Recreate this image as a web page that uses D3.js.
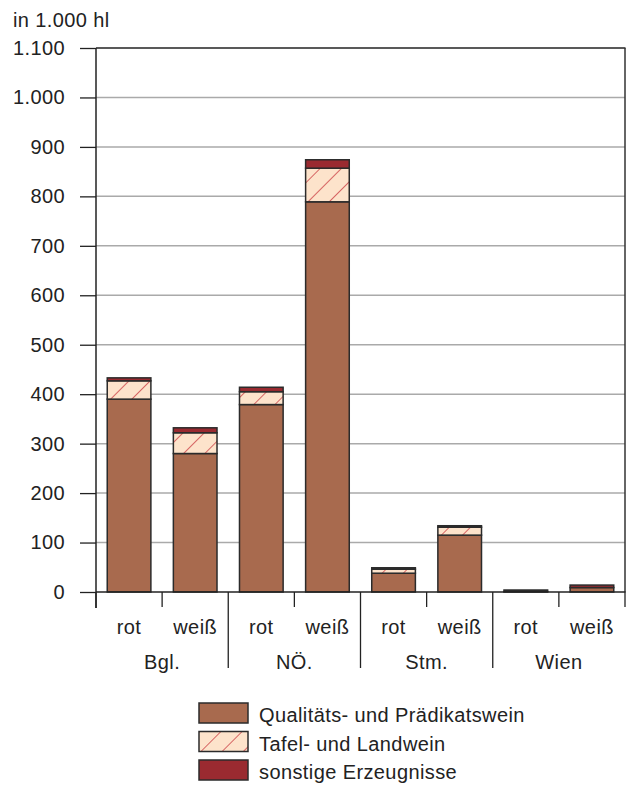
<!DOCTYPE html>
<html><head><meta charset="utf-8">
<script src="https://cdn.jsdelivr.net/npm/d3@7"></script>
<style>body{margin:0;background:#fff}svg{display:block}text{font-family:"Liberation Sans",Arial,sans-serif;fill:#222;letter-spacing:0.4px}</style>
</head><body><div id="chart"></div>
<script>
const regions = ["Bgl.", "NÖ.", "Stm.", "Wien"];
const kinds = ["rot", "weiß"];
const categories = ["Bgl. rot","Bgl. weiß","NÖ. rot","NÖ. weiß","Stm. rot","Stm. weiß","Wien rot","Wien weiß"];
const qualitaet = [390, 280, 379, 789, 38, 115, 1, 9];
const tafel     = [37, 42, 26, 68, 8, 16, 0, 0];
const sonstige  = [6, 10, 9, 17, 3, 3, 3, 5];
const seriesNames = ["Qualitäts- und Prädikatswein", "Tafel- und Landwein", "sonstige Erzeugnisse"];
const yTicks = [0,100,200,300,400,500,600,700,800,900,1000,1100];
const yTickLabels = ["0","100","200","300","400","500","600","700","800","900","1.000","1.100"];

const W = 630, H = 785, FS = 20;
const svg = d3.select("#chart").append("svg").attr("width", W).attr("height", H);
const defs = svg.append("defs");
const pat = defs.append("pattern").attr("id","hatch").attr("patternUnits","userSpaceOnUse")
  .attr("width",15).attr("height",15).attr("patternTransform","rotate(45)");
pat.append("rect").attr("width",15).attr("height",15).attr("fill","#fde3cb");
pat.append("line").attr("x1",0).attr("y1",0).attr("x2",0).attr("y2",15).attr("stroke","#c62f36").attr("stroke-width",1.4);

const x0 = 96, x1 = 625, yTop = 48, yBot = 592;
const x = d3.scaleBand().domain(categories).range([x0, x1]).paddingInner(0.34).paddingOuter(0.17);
const xSlot = d3.scaleBand().domain(categories).range([x0, x1]);
const xReg = d3.scaleBand().domain(regions).range([x0, x1]);
const y = d3.scaleLinear().domain([0, 1100]).range([yBot, yTop]);

// gridlines
svg.append("g").selectAll("line").data(yTicks.slice(1, -1)).join("line")
  .attr("x1", x0).attr("x2", x1).attr("y1", d => y(d)).attr("y2", d => y(d))
  .attr("stroke", "#aaa").attr("stroke-width", 1.5);

// frame top/right
svg.append("line").attr("x1", x0).attr("x2", x1 + 0.5).attr("y1", y(1100)).attr("y2", y(1100)).attr("stroke", "#222").attr("stroke-width", 1.5);
svg.append("line").attr("x1", x1).attr("x2", x1).attr("y1", y(1100)).attr("y2", yBot).attr("stroke", "#333").attr("stroke-width", 1.5);

// y axis
const yAxis = d3.axisLeft(y).tickValues(yTicks).tickFormat((d, i) => yTickLabels[i]).tickSize(16).tickPadding(15);
const gy = svg.append("g").attr("transform", `translate(${x0},0)`).call(yAxis);
gy.select(".domain").remove();
gy.selectAll(".tick line").attr("stroke", "#222").attr("stroke-width", 1.3);
gy.selectAll(".tick text").attr("font-size", FS).style("font-family", '"Liberation Sans",Arial,sans-serif').attr("fill", "#222");
svg.append("line").attr("x1", x0).attr("x2", x0).attr("y1", y(1100)).attr("y2", 608).attr("stroke", "#222").attr("stroke-width", 1.5);

// bars
const stack = categories.map((c, i) => ({c, q: qualitaet[i], t: tafel[i], s: sonstige[i]}));
const segs = [];
stack.forEach(d => {
  segs.push({c: d.c, y0: 0, y1: d.q, fill: "#a86a4e"});
  segs.push({c: d.c, y0: d.q, y1: d.q + d.t, fill: "url(#hatch)"});
  segs.push({c: d.c, y0: d.q + d.t, y1: d.q + d.t + d.s, fill: "#9a2a30"});
});
svg.append("g").selectAll("rect").data(segs.filter(s => s.y1 > s.y0)).join("rect")
  .attr("x", d => x(d.c)).attr("width", x.bandwidth())
  .attr("y", d => y(d.y1)).attr("height", d => y(d.y0) - y(d.y1))
  .attr("fill", d => d.fill).attr("stroke", "#2b2b2b").attr("stroke-width", 1.5);

// x axis line
svg.append("line").attr("x1", x0).attr("x2", x1 + 0.5).attr("y1", yBot).attr("y2", yBot).attr("stroke", "#222").attr("stroke-width", 1.5);
// ticks
categories.forEach((c, i) => {
  if (i === 0) return;
  const xx = xSlot(c);
  const long = i % 2 === 0;
  svg.append("line").attr("x1", xx).attr("x2", xx).attr("y1", yBot).attr("y2", long ? 668 : 607)
    .attr("stroke", "#222").attr("stroke-width", 1.3);
});
svg.append("line").attr("x1", x1).attr("x2", x1).attr("y1", yBot).attr("y2", 607).attr("stroke", "#222").attr("stroke-width", 1.3);
svg.append("line").attr("x1", x0).attr("x2", x0).attr("y1", yBot).attr("y2", 608).attr("stroke", "#222").attr("stroke-width", 1.3);

svg.append("g").selectAll("text").data(categories).join("text")
  .attr("x", d => xSlot(d) + xSlot.bandwidth() / 2).attr("y", 634)
  .attr("text-anchor", "middle").attr("font-size", FS)
  .text((d, i) => kinds[i % 2]);
svg.append("g").selectAll("text").data(regions).join("text")
  .attr("x", d => xReg(d) + xReg.bandwidth() / 2).attr("y", 669)
  .attr("text-anchor", "middle").attr("font-size", FS).text(d => d);

svg.append("text").attr("x", 13).attr("y", 27).attr("font-size", FS).text("in 1.000 hl");

// legend
const legFills = ["#a86a4e", "url(#hatch)", "#9a2a30"];
const leg = svg.append("g").selectAll("g").data(seriesNames).join("g")
  .attr("transform", (d, i) => `translate(199,${703 + i * 28.5})`);
leg.append("rect").attr("width", 49).attr("height", 20).attr("fill", (d, i) => legFills[i])
  .attr("stroke", "#2b2b2b").attr("stroke-width", 1.5);
leg.append("text").attr("x", 60).attr("y", 19).attr("font-size", FS).text(d => d);
</script></body></html>
